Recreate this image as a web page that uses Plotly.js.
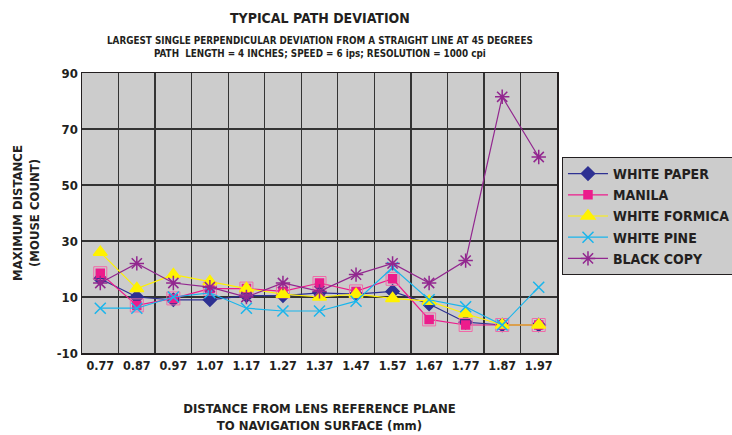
<!DOCTYPE html>
<html>
<head>
<meta charset="utf-8">
<script src="https://cdn.plot.ly/plotly-3.0.1.min.js"></script>
<style>html,body{margin:0;padding:0;background:#fff;}#chart{width:732px;height:435px;}</style>
</head>
<body>
<div id="chart"></div>
<script>
const categories = ['0.77','0.87','0.97','1.07','1.17','1.27','1.37','1.47','1.57','1.67','1.77','1.87','1.97'];
const whitePaper   = [16.5, 10, 9, 9, 10.5, 10.5, 11.5, 11, 12, 7.5, 1, 0, 0];
const manila       = [18.5, 7, 9.5, 13, 13, 12, 15, 12, 16.5, 2, 0, 0, 0];
const whiteFormica = [26, 13, 18, 15.5, 13, 11, 10, 11, 9.5, 8.5, 4, 0, 0];
const whitePine    = [6, 6, 10, 11.5, 6, 5, 5, 8.5, 20.5, 9, 6.5, 0, 13.5];
const blackCopy    = [15, 22, 15, 13.5, 10, 15, 12, 18, 22, 15, 23, 81.5, 60];
const yTicks = [-10, 10, 30, 50, 70, 90];

const FONT = '"Liberation Sans Narrow", "DejaVu Sans Condensed", Arial, sans-serif';

const traces = [
  {name:'WHITE PAPER', y:whitePaper, color:'#2e3192', symbol:'diamond', size:10},
  {name:'MANILA', y:manila, color:'#ec1c8c', symbol:'square', size:8},
  {name:'WHITE FORMICA', y:whiteFormica, color:'#fff200', symbol:'triangle-up', size:12},
  {name:'WHITE PINE', y:whitePine, color:'#19b5ec', symbol:'x-thin', size:11},
  {name:'BLACK COPY', y:blackCopy, color:'#92278f', symbol:'asterisk-open', size:12}
];

const data = [];
traces.forEach(t => {
  data.push({
    type:'scatter', mode:'lines+markers', name:t.name, x:categories, y:t.y,
    line:{color:t.color, width:1.2},
    marker:{symbol:t.symbol, size:t.size, color:t.color, line:{color:t.color, width:1.5}}
  });
  if (t.name === 'MANILA') {
    data.push({
      type:'scatter', mode:'markers', showlegend:false, x:categories, y:t.y, hoverinfo:'skip',
      marker:{symbol:'square-open', size:13, color:'#f06aa8', line:{color:'#f06aa8', width:1}}
    });
  }
});

const layout = {
  width:732, height:435,
  margin:{l:82, r:175, t:73, b:82, autoexpand:false},
  paper_bgcolor:'#ffffff', plot_bgcolor:'#cccccc',
  font:{family:FONT, color:'#231f20', size:12, weight:'bold'},
  showlegend:true,
  legend:{x:1.0105, y:0.70, xanchor:'left', yanchor:'top', bgcolor:'#cccccc', bordercolor:'#231f20', borderwidth:1,
          font:{family:FONT, size:14, color:'#231f20', weight:'bold'}, tracegroupgap:0, itemwidth:40},
  xaxis:{type:'category', range:[-0.5,12.5], tickson:'boundaries', ticks:'', tickangle:0, showgrid:true, gridcolor:'#333333', gridwidth:1.3,
         showline:true, mirror:true, linecolor:'#231f20', linewidth:1.5, automargin:false,
         tickfont:{family:FONT, size:12.5, color:'#231f20', weight:'bold'},
         title:{text:'DISTANCE FROM LENS REFERENCE PLANE<br>TO NAVIGATION SURFACE (mm)', font:{family:FONT, size:13, color:'#231f20', weight:'bold'}, standoff:32}},
  yaxis:{range:[-10,90], tickvals:yTicks, ticktext:yTicks.map(String), ticks:'', showgrid:true, gridcolor:'#333333', gridwidth:1.3, zeroline:false,
         showline:true, mirror:true, linecolor:'#231f20', linewidth:1.5, automargin:false,
         tickfont:{family:FONT, size:13, color:'#231f20', weight:'bold'},
         title:{text:'MAXIMUM DISTANCE<br>(MOUSE COUNT)', font:{family:FONT, size:13, color:'#231f20', weight:'bold'}, standoff:14}},
  annotations:[
    {xref:'paper', yref:'paper', x:0.5, y:1.0, yshift:55, xanchor:'center', yanchor:'middle', showarrow:false,
     text:'TYPICAL PATH DEVIATION', font:{family:FONT, size:14, color:'#231f20', weight:'bold'}},
    {xref:'paper', yref:'paper', x:0.5, y:1.0, yshift:33, xanchor:'center', yanchor:'middle', showarrow:false,
     text:'LARGEST SINGLE PERPENDICULAR DEVIATION FROM A STRAIGHT LINE AT 45 DEGREES', font:{family:FONT, size:9.8, color:'#231f20', weight:'bold'}},
    {xref:'paper', yref:'paper', x:0.5, y:1.0, yshift:20, xanchor:'center', yanchor:'middle', showarrow:false,
     text:'PATH  LENGTH = 4 INCHES; SPEED = 6 ips; RESOLUTION = 1000 cpi', font:{family:FONT, size:9.8, color:'#231f20', weight:'bold'}}
  ]
};

Plotly.newPlot('chart', data, layout, {displayModeBar:false, staticPlot:true});
</script>
</body>
</html>
